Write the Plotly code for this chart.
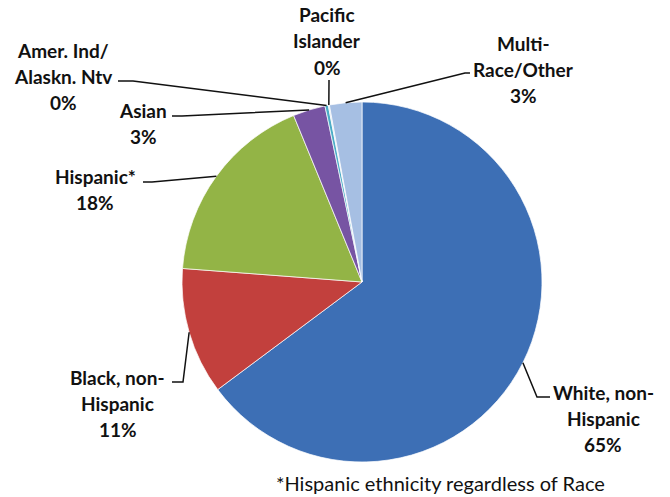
import math
import plotly.graph_objects as go

# ---- data ----
categories = ["White, non-\nHispanic", "Black, non-\nHispanic", "Hispanic*",
              "Asian", "Amer. Ind/\nAlaskn. Ntv", "Pacific\nIslander",
              "Multi-\nRace/Other"]
values = [64.8, 11.4, 17.6, 2.9, 0.3, 0.1, 2.9]
colors = ["#3D6FB5", "#C2403D", "#93B446", "#7754A3", "#4BACC6", "#D5DCE8", "#A6BFE3"]
footnote = "*Hispanic ethnicity regardless of Race"

# ---- layout geometry (pixels) ----
W, H = 670, 497
CX, CY, R = 362, 282, 180

# label first-line centre, and leader path start/elbow points (layout)
label_pos = [(603, 392), (118, 377), (95, 176), (143, 110), (63, 50), (327, 15), (523, 43)]
leader_pts = [
    [(550, 397), (537, 397)],
    [(172, 382), (183, 382)],
    [(143, 182), (152, 182)],
    [(172, 116), (182, 116)],
    [(118, 81), (133, 81)],
    [(329, 80), (329, 82)],
    [(470, 73), (465, 73)],
]
LINE_H = 26


def px(x):
    return x / W


def py(y):
    return 1 - y / H


fig = go.Figure(go.Pie(
    labels=[c.replace("\n", " ") for c in categories],
    values=values,
    sort=False,
    direction="clockwise",
    rotation=0,
    textinfo="none",
    hoverinfo="label+percent",
    marker=dict(colors=colors, line=dict(color="rgba(255,255,255,0.7)", width=1)),
    domain=dict(x=[px(CX - R), px(CX + R)], y=[py(CY + R), py(CY - R)]),
    showlegend=False,
))

total = sum(values)
annotations = []
shapes = []
cum = 0.0
for name, v, (lx, ly), pts in zip(categories, values, label_pos, leader_pts):
    mid = (cum + v / 2) / total * 2 * math.pi
    cum += v
    ex = CX + R * math.sin(mid)
    ey = CY - R * math.cos(mid)
    lines = name.split("\n") + [f"{round(v / total * 100):.0f}%"]
    for i, t in enumerate(lines):
        annotations.append(dict(
            x=px(lx), y=py(ly + i * LINE_H), xref="paper", yref="paper",
            text=f"<b>{t}</b>", showarrow=False, xanchor="center", yanchor="middle",
            font=dict(family="Lato, sans-serif", size=19, color="#111111"),
        ))
    path = "M " + " L ".join(f"{px(a):.5f},{py(b):.5f}" for a, b in pts + [(ex, ey)])
    shapes.append(dict(type="path", path=path, xref="paper", yref="paper",
                       line=dict(color="#111111", width=1.5)))

annotations.append(dict(
    x=px(440), y=py(483), xref="paper", yref="paper", text=footnote,
    showarrow=False, xanchor="center", yanchor="middle",
    font=dict(family="Lato, sans-serif", size=20, color="#111111"),
))

fig.update_layout(
    width=W, height=H,
    margin=dict(l=0, r=0, t=0, b=0),
    paper_bgcolor="white", plot_bgcolor="white",
    annotations=annotations, shapes=shapes,
)

fig.write_html("out.html",
               config={"displayModeBar": False},
               post_script="document.body.style.margin='0';document.body.style.padding='0';")
